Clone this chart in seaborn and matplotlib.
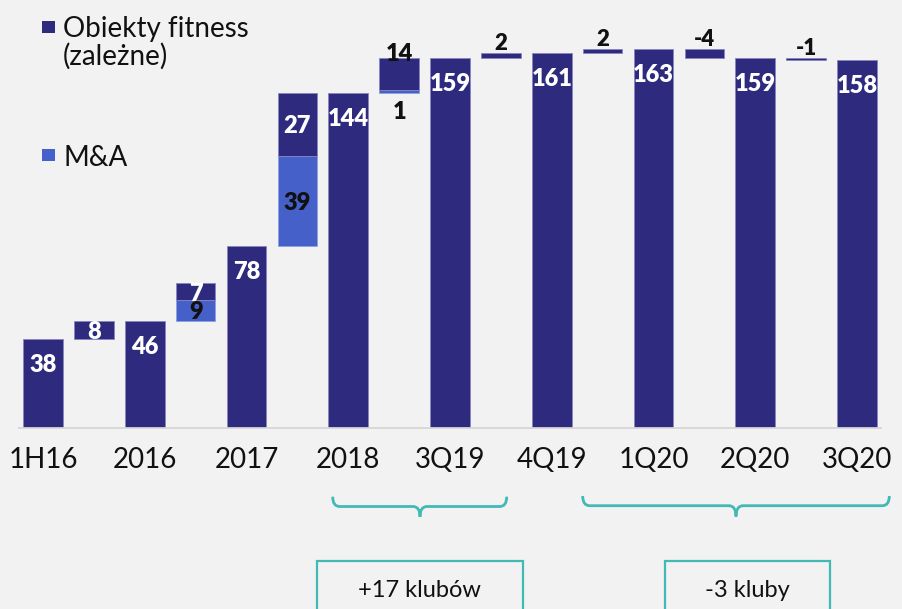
import numpy as np
import pandas as pd
import seaborn as sns
import matplotlib.pyplot as plt
from matplotlib.patches import Rectangle, PathPatch
from matplotlib.path import Path

categories = ["1H16", "2016", "2017", "2018", "3Q19", "4Q19", "1Q20", "2Q20", "3Q20"]
totals = [38, 46, 78, 144, 159, 161, 163, 159, 158]
organic = [8, 7, 27, 14, 2, 2, -4, -1]      # Obiekty fitness (zależne)
mna = [0, 9, 39, 1, 0, 0, 0, 0]             # M&A
legend_labels = ["Obiekty fitness", "(zależne)", "M&A"]
brace_labels = ["+17 klubów", "-3 kluby"]

# where the increment labels go
organic_style = ["in", "in", "in", "top", "above", "above", "above", "above"]
mna_style = ["", "in", "in", "below", "", "", "", ""]

NAVY = "#2e2a7e"
BLUE = "#4560c9"
TEAL = "#41b9b5"
BG = "#f2f2f2"
INK = "#111111"

W, H = 902, 609
BASE = 427.7   # pixel row of the baseline
PPU = 2.326    # pixels per club

sns.set_theme(style="white", rc={"axes.facecolor": BG, "figure.facecolor": BG})
plt.rcParams["font.family"] = ["Lato", "DejaVu Sans"]

fig = plt.figure(figsize=(W / 100, H / 100), dpi=100)
ax = fig.add_axes([0, 1 - BASE / H, 1, BASE / H])


def fx(x):
    return x / W


def fy(y):
    return 1 - y / H


tot_pos = np.arange(len(totals)) * 2
inc_pos = tot_pos[:-1] + 1
start = np.array(totals[:-1])
mna_arr = np.array(mna)
org_arr = np.array(organic)

df = pd.DataFrame({"pos": tot_pos, "clubs": totals})
sns.barplot(data=df, x="pos", y="clubs", native_scale=True, width=0.39,
            color=NAVY, saturation=1, errorbar=None, ax=ax,
            edgecolor="#8985c0", linewidth=0.6)

has_mna = mna_arr > 0
ax.bar(inc_pos[has_mna], mna_arr[has_mna], bottom=start[has_mna], width=0.78,
       color=BLUE, edgecolor="#8ea0e0", linewidth=0.6)
ax.bar(inc_pos, org_arr, bottom=start + mna_arr, width=0.78,
       color=NAVY, edgecolor="#8985c0", linewidth=0.6)

ax.set_xlim(-43 / 50.875, (W - 43) / 50.875)
ax.set_ylim(0, BASE / PPU)
ax.set(xlabel="", ylabel="")
ax.set_yticks([])
sns.despine(ax=ax, left=True, bottom=True)
ax.hlines(0, -0.5, 16.5, color="#d6d6d6", lw=1.3, clip_on=False)
ax.set_xticks(tot_pos, categories)
ax.tick_params(axis="x", length=0, pad=14, labelsize=20, labelcolor=INK)


def label(x, y, text, dy_px, color, size):
    ax.annotate(text, (x, y), xytext=(0, -dy_px * 0.72), textcoords="offset points",
                ha="center", va="baseline", color=color, fontsize=size,
                fontweight="heavy", annotation_clip=False)


for p, v in zip(tot_pos, totals):
    label(p, v, str(v), 33, "white", 17)

for k, p in enumerate(inc_pos):
    s, m, o = start[k], mna[k], organic[k]
    if mna_style[k] == "in":
        label(p, s + m / 2, str(m), 9, INK, 17)
    elif mna_style[k] == "below":
        label(p, s, str(m), 26, INK, 17)
    top = max(s + m, s + m + o)
    if organic_style[k] == "in":
        label(p, s + m + o / 2, str(o), 9, "white", 17)
    elif organic_style[k] == "top":
        label(p, top, str(o), 3, INK, 17)
    else:
        label(p, top, str(o), -3, INK, 16)

# legend
for y0, col in [(21, NAVY), (149, BLUE)]:
    fig.add_artist(Rectangle((fx(42), fy(y0 + 12)), fx(13), 12 / H,
                             transform=fig.transFigure, color=col, lw=0))
fig.text(fx(63), fy(36.7), legend_labels[0], fontsize=20, va="baseline", color=INK)
fig.text(fx(63), fy(65), legend_labels[1], fontsize=20, va="baseline", color=INK)
fig.text(fx(63), fy(165.7), legend_labels[2], fontsize=20, va="baseline", color=INK)


# braces and boxes under the axis
def brace(x0, x1, xc, ytop, ymid, ytip, r=7):
    verts = [(x0, ytop), (x0, ymid), (x0 + r, ymid), (xc - r, ymid), (xc, ymid),
             (xc, ytip), (xc, ymid), (xc + r, ymid), (x1 - r, ymid), (x1, ymid), (x1, ytop)]
    codes = [Path.MOVETO, Path.CURVE3, Path.CURVE3, Path.LINETO, Path.CURVE3, Path.CURVE3,
             Path.CURVE3, Path.CURVE3, Path.LINETO, Path.CURVE3, Path.CURVE3]
    verts = [(fx(a), fy(b)) for a, b in verts]
    fig.add_artist(PathPatch(Path(verts, codes), transform=fig.transFigure,
                             fill=False, edgecolor=TEAL, lw=2))


brace(332.7, 506.7, 420, 496.7, 506.5, 516.7)
brace(582.7, 889.3, 736, 496.0, 505.7, 516.5)

for (x0, x1), txt in zip([(316.7, 522.7), (665, 830)], brace_labels):
    fig.add_artist(Rectangle((fx(x0), fy(620)), fx(x1 - x0), (620 - 561) / H,
                             transform=fig.transFigure, fill=False,
                             edgecolor=TEAL, lw=1.6))
    fig.text(fx((x0 + x1) / 2), fy(596.7), txt, fontsize=17, ha="center",
             va="baseline", color=INK)

fig.savefig("out.png", dpi=100, facecolor=BG)
